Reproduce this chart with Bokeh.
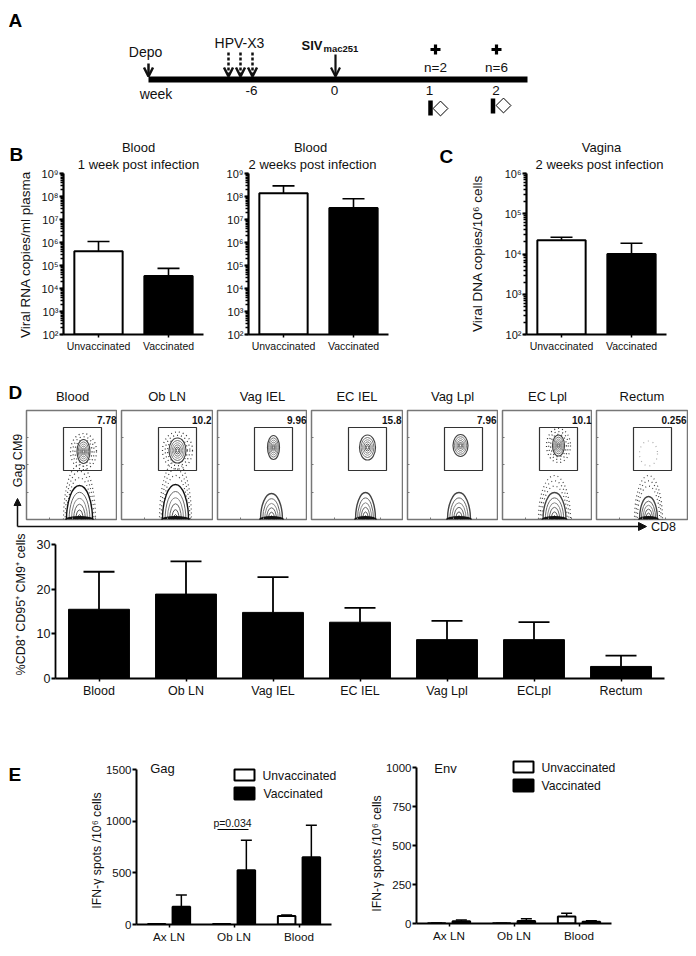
from bokeh.plotting import figure
from bokeh.layouts import column, row
from bokeh.embed import file_html
from bokeh.resources import INLINE
from bokeh.models import (Range1d, Label, Arrow, OpenHead, NormalHead, LogTicker, FixedTicker,
                          CustomJSTickFormatter, Spacer)
import math

FONT = "Liberation Sans"
INK = "#111111"

# ---------- Panel A (timeline events, in schematic position) ----------
LINE_X = [148, 527]
LINE_Y = 79
HPV_X = [228, 240, 252]
PLUS_X = [435, 496]
N_TEXT = ["n=2", "n=6"]
WEEK_X = [251, 334, 429, 495.5]
WEEK_TXT = ["-6", "0", "1", "2"]
ICON_BAR_X = [430, 492.5]
ICON_BAR_TOP = [100, 98]
ICON_DIA_X = [440, 503]
ICON_DIA_Y = [108, 105]

# ---------- Panels B, C ----------
GROUPS = ["Unvaccinated", "Vaccinated"]
B1_VAL = [4.2e5, 3.5e4]
B1_ERR = [1.1e6, 7.5e4]
B2_VAL = [1.4e8, 3.2e7]
B2_ERR = [2.9e8, 8.0e7]
C_VAL = [2.2e4, 1.0e4]
C_ERR = [2.6e4, 1.85e4]

# ---------- Panel D flow ----------
TISSUE_TITLES = ["Blood", "Ob LN", "Vag IEL", "EC IEL", "Vag Lpl", "EC Lpl", "Rectum"]
FLOW_PCT = ["7.78", "10.2", "9.96", "15.8", "7.96", "10.1", "0.256"]
FLOW_L = [26, 121, 217, 311, 407, 502, 596]
FLOW_R = [117, 212, 307, 402, 497, 592, 687]
UP_X = [57, 56, 56, 56, 53, 56, 52]
UP_Y = [68, 69, 72, 72, 74, 74, 66]
UP_W = [13, 17, 12, 16, 15, 12, 0]
UP_H = [24, 25, 24, 25, 22, 21, 0]
UP_HALO_W = [26, 30, 0, 0, 0, 24, 18]
UP_HALO_H = [36, 37, 0, 0, 0, 34, 25]
LOW_X = [53, 54, 54, 54, 51.5, 52, 52]
LOW_W = [26, 26, 22, 20, 23, 23, 18]
LOW_H = [34, 35, 26, 27, 27, 27, 23]
LOW_HALO_W = [28, 28, 0, 0, 0, 28, 24]
LOW_HALO_H = [55, 58, 0, 0, 0, 44, 44]

# ---------- Panel D bars ----------
D_CATS = ["Blood", "Ob LN", "Vag IEL", "EC IEL", "Vag Lpl", "ECLpl", "Rectum"]
D_VAL = [15.5, 18.9, 14.8, 12.6, 8.7, 8.7, 2.7]
D_ERR = [23.9, 26.2, 22.7, 15.8, 12.9, 12.6, 5.1]

# ---------- Panel E ----------
E_CATS = ["Ax LN", "Ob LN", "Blood"]
E_LEGEND = ["Unvaccinated", "Vaccinated"]
GAG_UN = [4, 4, 82]
GAG_UN_ERR = [5, 5, 92]
GAG_VA = [172, 525, 650]
GAG_VA_ERR = [285, 815, 960]
ENV_UN = [2, 1, 45]
ENV_UN_ERR = [3, 2, 65]
ENV_VA = [14, 16, 11]
ENV_VA_ERR = [22, 30, 18]

# Transparent page-sized overlay carrying the texts and arrows that lie outside the plot frames.
ov = figure(width=680, height=940, toolbar_location=None, output_backend="svg",
            x_range=Range1d(8, 688), y_range=Range1d(948, 8),
            min_border_left=0, min_border_right=0, min_border_top=0, min_border_bottom=0,
            x_axis_location=None, y_axis_location=None,
            styles={"position": "absolute", "top": "0px", "left": "0px"})
ov.xgrid.visible = False
ov.ygrid.visible = False
ov.outline_line_color = None
ov.background_fill_color = None
ov.border_fill_color = None


def centers(cats, shift=0.0):
    return [i + 0.5 + shift for i in range(len(cats))]


def cat_axis(p, cats):
    c = centers(cats)
    p.xaxis[0].ticker = FixedTicker(ticks=c, minor_ticks=[])
    p.xaxis[0].major_label_overrides = {k: v for k, v in zip(c, cats)}


def base(width, height, L, R, T, B, **kw):
    p = figure(width=width, height=height, toolbar_location=None, output_backend="svg",
               min_border_left=L, min_border_right=R, min_border_top=T, min_border_bottom=B, **kw)
    p.background_fill_color = None
    p.border_fill_color = None
    p.outline_line_color = None
    p.xgrid.visible = False
    p.ygrid.visible = False
    return p


def txt(x, y, s, size=12.0, bold=False, align="center", angle=0.0, color=INK):
    ov.add_layout(Label(x=x, y=y, text=s, text_font=FONT, text_font_size=f"{size}px",
                        text_font_style="bold" if bold else "normal",
                        text_align=align, text_baseline="middle", angle=angle, text_color=color))


def arrow(x0, y0, x1, y1, head=True, width=2.0, dash="solid", size=9, solid=False):
    if not head:
        end = None
    elif solid:
        end = NormalHead(size=size, fill_color=INK, line_color=INK)
    else:
        end = OpenHead(size=size, line_width=width, line_color=INK)
    ov.add_layout(Arrow(end=end, x_start=x0, y_start=y0, x_end=x1, y_end=y1,
                        line_color=INK, line_width=width, line_dash=dash))


def style_axes(p, ysize=11, xsize=10.5, ywidth=2.2, tick_out=4):
    for ax in (p.xaxis[0], p.yaxis[0]):
        ax.axis_line_color = "#000000"
        ax.major_tick_line_color = "#000000"
        ax.minor_tick_line_color = "#000000"
        ax.major_tick_in = 0
        ax.minor_tick_in = 0
        ax.major_label_text_font = FONT
        ax.major_label_text_color = INK
    p.xaxis[0].axis_line_width = 2
    p.xaxis[0].major_tick_line_width = 1.5
    p.xaxis[0].major_tick_out = 3
    p.xaxis[0].major_label_text_font_size = f"{xsize}px"
    p.xaxis[0].major_label_standoff = 2
    p.yaxis[0].axis_line_width = ywidth
    p.yaxis[0].major_tick_line_width = 1.8
    p.yaxis[0].major_tick_out = tick_out
    p.yaxis[0].major_label_text_font_size = f"{ysize}px"
    p.yaxis[0].major_label_standoff = 1


SUP_JS = """
const s = {2:'\u00b2',3:'\u00b3',4:'\u2074',5:'\u2075',6:'\u2076',7:'\u2077',8:'\u2078',9:'\u2079'};
return '10' + s[Math.round(Math.log10(tick))];
"""


def log_panel(width, L, R, ymax):
    return base(width, 247, L, R, 45, 41, x_range=Range1d(0, len(GROUPS)),
                y_axis_type="log", y_range=Range1d(1e2, ymax))


def draw_log(p, vals, errs, width=0.69, cap=22):
    bottoms = [1e2, 1e2]
    c = centers(GROUPS)
    p.segment(c, vals, c, errs, line_color="#000000", line_width=1.6)
    p.scatter(c, errs, marker="dash", size=cap, line_color="#000000", line_width=1.6)
    p.vbar(x=c, top=vals, bottom=bottoms, width=width, fill_color=["#ffffff", "#000000"],
           line_color="#000000", line_width=2)
    cat_axis(p, GROUPS)
    p.yaxis[0].ticker = LogTicker(mantissas=[1], num_minor_ticks=10)
    p.yaxis[0].formatter = CustomJSTickFormatter(code=SUP_JS)
    style_axes(p)
    p.yaxis[0].minor_tick_line_width = 1.5
    p.yaxis[0].minor_tick_out = 3
    p.xaxis[0].minor_tick_line_color = None


# ---------- Row A ----------
pa = figure(width=680, height=120, toolbar_location=None, output_backend="svg",
            x_range=Range1d(8, 688), y_range=Range1d(128, 8),
            min_border_left=0, min_border_right=0, min_border_top=0, min_border_bottom=0,
            x_axis_location=None, y_axis_location=None)
pa.xgrid.visible = False
pa.ygrid.visible = False
pa.outline_line_color = None
pa.line(LINE_X, [LINE_Y, LINE_Y], line_color="#000000", line_width=6)
txt(8, 20, "A", 19, True, "left", color="#000000")
txt(145, 51, "Depo", 14)
arrow(148, 63, 148, 76, width=2.5)
txt(239, 42, "HPV-X3", 14)
for hx in HPV_X:
    arrow(hx, 52, hx, 76, width=2.5, dash="3 2")
txt(301, 45, "SIV", 13, True, "left")
txt(323, 48, "mac251", 9.5, True, "left")
arrow(335, 54, 335, 76, width=2.2)
pa.scatter(PLUS_X, [49, 49], marker="cross", size=10, line_color="#000000", line_width=3.2)
for nx, nt in zip(PLUS_X, N_TEXT):
    txt(nx, 67, nt, 13.5)
txt(155.5, 93, "week", 14)
for wx, wt in zip(WEEK_X, WEEK_TXT):
    txt(wx, 90, wt, 13.5)
pa.vbar(x=ICON_BAR_X, top=ICON_BAR_TOP, bottom=[t + 15 for t in ICON_BAR_TOP], width=4.5,
        fill_color="#000000", line_color=None)
pa.scatter(ICON_DIA_X, ICON_DIA_Y, marker="square", size=10.5, angle=math.pi / 4, fill_color="#ffffff",
           line_color="#000000", line_width=1)

# ---------- Row B, C ----------
pb1 = log_panel(215 - 8, 55, 12, 1e9)
draw_log(pb1, B1_VAL, B1_ERR)
txt(9, 154, "B", 19, True, "left", color="#000000")
txt(138, 147, "Blood", 13)
txt(138, 164, "1 week post infection", 13)
txt(25, 254, "Viral RNA copies/ml plasma", 13.5, angle=math.pi / 2)

pb2 = log_panel(400 - 215, 33, 12, 1e9)
draw_log(pb2, B2_VAL, B2_ERR)
txt(310, 147, "Blood", 13)
txt(312, 164, "2 weeks post infection", 13)

pc = log_panel(688 - 400, 126, 22, 1e6)
draw_log(pc, C_VAL, C_ERR)
txt(439, 156, "C", 19, True, "left", color="#000000")
txt(601, 147, "Vagina", 13)
txt(599, 164, "2 weeks post infection", 13)
txt(477, 253, "Viral DNA copies/10\u2076 cells", 13.5, angle=math.pi / 2)

# ---------- Row D flow ----------
RINGS = [1.0, 0.8, 0.62, 0.45, 0.28, 0.14]
RING_COL = ["#444444", "#666666", "#888888", "#666666", "#555555", "#444444"]


def flow_panel(i, right_gap):
    left, right = FLOW_L[i], FLOW_R[i]
    w = right - left + 4 + right_gap
    p = figure(width=w, height=146, toolbar_location=None, output_backend="svg",
               min_border_left=4, min_border_right=right_gap, min_border_top=35, min_border_bottom=2,
               x_range=Range1d(left, right), y_range=Range1d(519, 410),
               x_axis_location=None, y_axis_location=None)
    p.xgrid.visible = False
    p.ygrid.visible = False
    p.background_fill_color = "#ffffff"
    p.border_fill_color = None
    p.outline_line_color = "#777777"
    p.outline_line_width = 1.5
    base_y = 519
    ux, uy = left + UP_X[i], base_y - UP_Y[i]
    lx = left + LOW_X[i]
    # stippled halos
    if UP_HALO_W[i]:
        light = i == 6
        for s in ([1.0] if light else [1.0, 0.82, 0.66]):
            p.ellipse(ux, uy, width=UP_HALO_W[i] * s, height=UP_HALO_H[i] * s, fill_color=None,
                      line_color="#aaaaaa" if light else "#333333", line_width=1.2,
                      line_dash="1 4" if light else "1 3")
    if LOW_HALO_W[i]:
        for s in [1.0, 0.88, 0.76]:
            p.ellipse(lx, base_y, width=LOW_HALO_W[i] * s + 4, height=2 * LOW_HALO_H[i] * s, fill_color=None,
                      line_color="#444444", line_width=1.2, line_dash="1 3")
    # upper cluster contours
    if UP_W[i]:
        for s, c in zip(RINGS, RING_COL):
            p.ellipse(ux, uy, width=UP_W[i] * s, height=UP_H[i] * s, fill_color="#ffffff" if s == 1.0 else None,
                      line_color=c, line_width=1.2 if s == 1.0 else 0.9)
    # lower population contours (dome on the frame's base)
    for s, c in zip(RINGS, RING_COL):
        p.ellipse(lx, base_y, width=LOW_W[i] * s, height=2 * LOW_H[i] * s,
                  fill_color="#ffffff" if s == 1.0 else None,
                  line_color="#111111" if s == 1.0 and i < 2 else c, line_width=1.4 if s == 1.0 else 1)
    p.ellipse(lx, base_y, width=LOW_W[i] + 3, height=7, fill_color="#111111", line_color=None)
    # gate
    p.quad(left=[left + 37], right=[left + 75], top=[427], bottom=[470], fill_color=None,
           line_color="#333333", line_width=1.2)
    # tick marks
    ty = [437, 464, 492]
    p.segment([left] * 3, ty, [left + 2] * 3, ty, line_color="#777777", line_width=1)
    tx = [left + 23, left + 46, left + 69]
    p.segment(tx, [519] * 3, tx, [517] * 3, line_color="#777777", line_width=1)
    txt((left + right) / 2 + (0.5 if i == 0 else 0), 396, TISSUE_TITLES[i], 13)
    txt(right - 1, 419, FLOW_PCT[i], 10, True, "right")
    return p


txt(8, 392, "D", 19, True, "left", color="#000000")
txt(17, 460, "Gag CM9", 12.5, angle=math.pi / 2)
arrow(17, 526, 17, 498, width=1.5, size=7, solid=True)

gaps = [0, 1, 0, 1, 1, 0, 1]
flow_figs = [flow_panel(i, gaps[i]) for i in range(7)]

# ---------- Panel D bars ----------
pd = base(680, 189, 47, 24, 23, 32, x_range=Range1d(0, len(D_CATS)), y_range=Range1d(0, 30))
dc = centers(D_CATS)
pd.segment(dc, D_VAL, dc, D_ERR, line_color="#000000", line_width=1.8)
pd.scatter(dc, D_ERR, marker="dash", size=31, line_color="#000000", line_width=1.8)
pd.vbar(x=dc, top=D_VAL, width=0.7, fill_color="#000000", line_color="#000000")
cat_axis(pd, D_CATS)
pd.yaxis[0].ticker = FixedTicker(ticks=[0, 10, 20, 30], minor_ticks=[])
style_axes(pd, ysize=12.5, xsize=12.5, ywidth=1.8)
pd.xaxis[0].major_label_standoff = 2
pd.xaxis[0].minor_tick_line_color = None
txt(20, 604, "%CD8\u207a CD95\u207a CM9\u207a cells", 12.5, angle=math.pi / 2)
arrow(17, 526, 646, 526, width=1.5, size=8, solid=True)
txt(663, 526, "CD8", 12.5)


# ---------- Panel E ----------
def e_panel(width, L, R, T, B, ymax, ticks, un, un_err, va, va_err):
    p = base(width, 238, L, R, T, B, x_range=Range1d(0, len(E_CATS)), y_range=Range1d(0, ymax))
    off = 0.19
    for vals, errs, d in ((un, un_err, -off), (va, va_err, off)):
        x = centers(E_CATS, d)
        p.segment(x, vals, x, errs, line_color="#000000", line_width=1.5)
        p.scatter(x, errs, marker="dash", size=11, line_color="#000000", line_width=1.5)
    p.vbar(x=centers(E_CATS, -off), top=un, width=0.27,
           fill_color="#ffffff", line_color="#000000", line_width=2)
    p.vbar(x=centers(E_CATS, off), top=va, width=0.27,
           fill_color="#000000", line_color="#000000", line_width=2)
    cat_axis(p, E_CATS)
    p.yaxis[0].ticker = FixedTicker(ticks=ticks, minor_ticks=[])
    style_axes(p, ysize=11.5, xsize=11.7, ywidth=2)
    p.xaxis[0].minor_tick_line_color = None
    p.xaxis[0].major_label_standoff = 2
    return p


def e_legend(left, top1, top2, text1_x, text2_x, y1, y2):
    ov.quad(left=[left, left], right=[left + 20, left + 20], top=[top1, top2], bottom=[top1 + 11, top2 + 12],
            fill_color=["#ffffff", "#000000"], line_color="#000000", line_width=2)
    txt(text1_x, y1, E_LEGEND[0], 12.2, align="left")
    txt(text2_x, y2, E_LEGEND[1], 12.2, align="left")


pe1 = e_panel(342, 128, 19, 59, 24, 1500, [0, 500, 1000, 1500], GAG_UN, GAG_UN_ERR, GAG_VA, GAG_VA_ERR)
e_legend(234, 769, 787, 262, 263, 775, 793)
txt(8, 774, "E", 19, True, "left", color="#000000")
txt(162, 768, "Gag", 13)
txt(96, 850, "IFN-\u03b3 spots /10\u2076 cells", 12.3, angle=math.pi / 2)
txt(232, 822, "p=0.034", 10.5)
ov.segment([217], [829], [248], [829], line_color="#000000", line_width=1.2)

pe2 = e_panel(338, 66, 77, 57, 25, 1000, [0, 250, 500, 750, 1000], ENV_UN, ENV_UN_ERR, ENV_VA, ENV_VA_ERR)
e_legend(513, 761, 779, 541, 541, 767, 785)
txt(445, 768, "Env", 13)
txt(376, 853, "IFN-\u03b3 spots /10\u2076 cells", 12.3, angle=math.pi / 2)

layout = column(row(pa), row(pb1, pb2, pc), row(Spacer(width=14, height=146), *flow_figs), row(pd),
                row(column(pe1), column(pe2)), ov, spacing=0, margin=(8, 0, 0, 8))
open("out.html", "w", encoding="utf-8").write(file_html(layout, INLINE))
